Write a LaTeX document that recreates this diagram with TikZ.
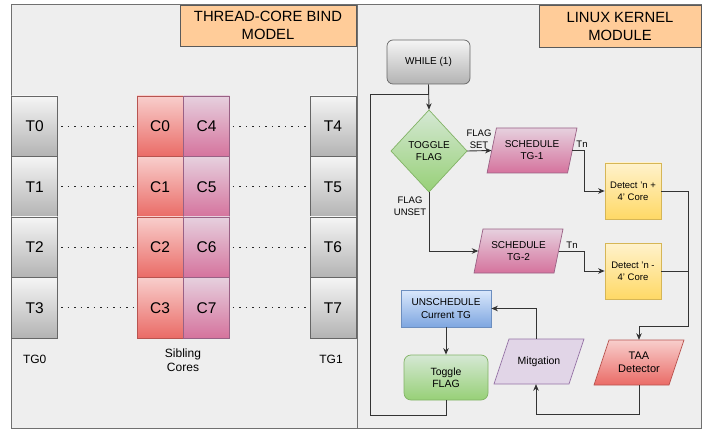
\documentclass[tikz,border=0pt]{standalone}
\usepackage{fontspec}
\setmainfont{Liberation Sans}
\usetikzlibrary{arrows.meta,calc}
\definecolor{panelfill}{HTML}{EEEEEE}
\definecolor{panelline}{HTML}{707070}
\definecolor{grayA}{HTML}{F5F5F5}\definecolor{grayB}{HTML}{B3B3B3}\definecolor{grayL}{HTML}{666666}
\definecolor{redA}{HTML}{F8CECC}\definecolor{redB}{HTML}{EA6B66}\definecolor{redL}{HTML}{B85450}
\definecolor{pinkA}{HTML}{E6D0DE}\definecolor{pinkB}{HTML}{D5739D}\definecolor{pinkL}{HTML}{996185}
\definecolor{greenA}{HTML}{D5E8D4}\definecolor{greenB}{HTML}{97D077}\definecolor{greenL}{HTML}{82B366}
\definecolor{yelA}{HTML}{FFF2CC}\definecolor{yelB}{HTML}{FFD966}\definecolor{yelL}{HTML}{D6B656}
\definecolor{blueA}{HTML}{DAE8FC}\definecolor{blueB}{HTML}{7EA6E0}\definecolor{blueL}{HTML}{6C8EBF}
\definecolor{mitF}{HTML}{E1D5E7}\definecolor{mitL}{HTML}{9673A6}
\definecolor{orangeF}{HTML}{FFCC99}\definecolor{orangeL}{HTML}{5A5A5A}
\definecolor{linec}{HTML}{333333}
\tikzset{
  panel/.style={draw=panelline, fill=panelfill, line width=1pt},
  titlebox/.style={draw=orangeL, fill=orangeF, line width=0.8pt, align=center, font=\fontsize{14.8}{18}\selectfont},
  tbox/.style={draw=grayL, top color=grayA, bottom color=grayB, line width=0.7pt, minimum width=46pt, minimum height=60.5pt, inner sep=0pt, font=\fontsize{15.5}{18}\selectfont},
  cred/.style={draw=redL, top color=redA, bottom color=redB, line width=0.7pt, minimum width=46pt, minimum height=60.5pt, inner sep=0pt, font=\fontsize{15.5}{18}\selectfont},
  cpink/.style={draw=pinkL, top color=pinkA, bottom color=pinkB, line width=0.7pt, minimum width=46pt, minimum height=60.5pt, inner sep=0pt, font=\fontsize{15.5}{18}\selectfont},
  dots/.style={dash pattern=on 1.5pt off 5pt, line width=1.3pt, black!85},
  lbl/.style={font=\fontsize{12}{14.5}\selectfont, align=center, inner sep=0pt},
  ftext/.style={font=\fontsize{9.5}{12}\selectfont, align=center, inner sep=0pt},
  conn/.style={draw=linec, line width=0.9pt},
  arr/.style={conn, -{Stealth[length=6.5pt,width=5.5pt,inset=2pt]}},
}
% #1 name, #2 cx, #3 cy, #4 width, #5 height, #6 half skew, #7 style, #8 font, #9 text
\newcommand\pgram[9]{%
  \path[#7] ({#2-#4/2+#6},{#3-#5/2}) -- ({#2+#4/2+#6},{#3-#5/2}) -- ({#2+#4/2-#6},{#3+#5/2}) -- ({#2-#4/2-#6},{#3+#5/2}) -- cycle;
  \node[ftext, font=#8, minimum width=#4pt, minimum height=#5pt] (#1) at (#2,#3) {#9};}
\begin{document}
\begin{tikzpicture}[x=1pt,y=-1pt]
\useasboundingbox (0,0) rectangle (703,430);
% panels
\path[panel] (11.5,5) rectangle (357,428);
\path[panel] (357,5) rectangle (701,428);
\node[titlebox, minimum width=176pt, minimum height=41pt, inner sep=0pt] (title1) at (268,25.5) {THREAD-CORE BIND\\MODEL};
\node[titlebox, minimum width=162pt, minimum height=42pt, inner sep=0pt] (title2) at (620,26) {LINUX KERNEL\\MODULE};
% threads and cores
\foreach \i/\a/\b/\c/\d in {0/0/0/4/4, 1/1/1/5/5, 2/2/2/6/6, 3/3/3/7/7}{
  \pgfmathsetmacro\yy{126.25+60.5*\i}
  \node[tbox] (T\a) at (34.7,\yy) {T\a};
  \node[cred] (C\b) at (160,\yy) {C\b};
  \node[cpink] (C\c) at (206.5,\yy) {C\c};
  \node[tbox] (T\d) at (333,\yy) {T\d};
  \draw[dots] ([xshift=3pt]T\a.east) -- (C\b.west);
  \draw[dots] ([xshift=3pt]C\c.east) -- (T\d.west);
}
\node[lbl] (tg0) at (34.7,359) {TG0};
\node[lbl] (sib) at (183,360) {Sibling\\Cores};
\node[lbl] (tg1) at (331,359) {TG1};
% flowchart
\node[draw=grayL, top color=grayA, bottom color=grayB, line width=0.7pt, rounded corners=6pt, minimum width=83pt, minimum height=44pt, ftext, font=\fontsize{10}{12}\selectfont] (while) at (428.5,62) {WHILE (1)};
\path[draw=greenL, top color=greenA, bottom color=greenB, line width=0.7pt] (429,110) -- (467,151) -- (429,192) -- (391,151) -- cycle;
\node[ftext, font=\fontsize{10}{12.5}\selectfont, minimum width=76pt, minimum height=82pt] (dm) at (429,151) {TOGGLE\\FLAG};
\pgram{s1}{532}{150.5}{80.5}{45}{4.7}{draw=pinkL, top color=pinkA, bottom color=pinkB, line width=0.7pt}{\fontsize{10}{12}\selectfont}{SCHEDULE\\TG-1}
\pgram{s2}{518.5}{251}{80}{44}{4.5}{draw=pinkL, top color=pinkA, bottom color=pinkB, line width=0.7pt}{\fontsize{10}{12}\selectfont}{SCHEDULE\\TG-2}
\node[draw=yelL, top color=yelA, bottom color=yelB, line width=0.7pt, minimum width=56pt, minimum height=56pt, ftext] (d1) at (633,191) {Detect 'n +\\4' Core};
\node[draw=yelL, top color=yelA, bottom color=yelB, line width=0.7pt, minimum width=56pt, minimum height=56pt, ftext] (d2) at (633,271) {Detect 'n -\\4' Core};
\node[draw=blueL, top color=blueA, bottom color=blueB, line width=0.7pt, minimum width=90pt, minimum height=37pt, ftext, font=\fontsize{10}{12.5}\selectfont] (un) at (446,308.5) {UNSCHEDULE\\Current TG};
\node[draw=greenL, top color=greenA, bottom color=greenB, line width=0.7pt, rounded corners=7pt, minimum width=84pt, minimum height=45pt, ftext, font=\fontsize{10.5}{12.5}\selectfont] (tog) at (446,377.5) {Toggle\\FLAG};
\pgram{mit}{539}{361.5}{75}{45}{7.5}{draw=mitL, fill=mitF, line width=0.7pt}{\fontsize{10.5}{12.5}\selectfont}{Mitgation}
\pgram{taa}{639}{362.5}{75}{45}{7.5}{draw=redL, top color=redA, bottom color=redB, line width=0.7pt}{\fontsize{11}{13}\selectfont}{TAA\\Detector}
% connectors
\coordinate (j1) at (429,94);
\coordinate (lb) at (370,415);
\coordinate (c1) at (688,326);
\draw[arr] (while.south) -- (dm.north);
\draw[conn] (tog.south) |- (lb) |- (j1);
\draw[arr] (dm.east) -- (s1.west);
\node[ftext] (fs) at (479,139) {FLAG\\SET};
\draw[arr] (s1.east) -- ++(11.5,0) |- (d1.west);
\node[ftext] (tn1) at (582,144) {Tn};
\draw[arr] (d1.east) -| (c1) -| (taa.north);
\draw[conn] (d2.east) -- (d2.east -| c1);
\draw[arr] (dm.south) |- (s2.west);
\node[ftext] (fu) at (410,206) {FLAG\\UNSET};
\draw[arr] (s2.east) -- ++(25.5,0) |- (d2.west);
\node[ftext] (tn2) at (572,245) {Tn};
\draw[arr] (un.south) -- (tog.north);
\draw[arr] ([xshift=-3pt]mit.north) |- (un.east);
\draw[arr] (taa.south) -- ++(0,29) -| ([xshift=-3pt]mit.south);
\end{tikzpicture}
\end{document}
